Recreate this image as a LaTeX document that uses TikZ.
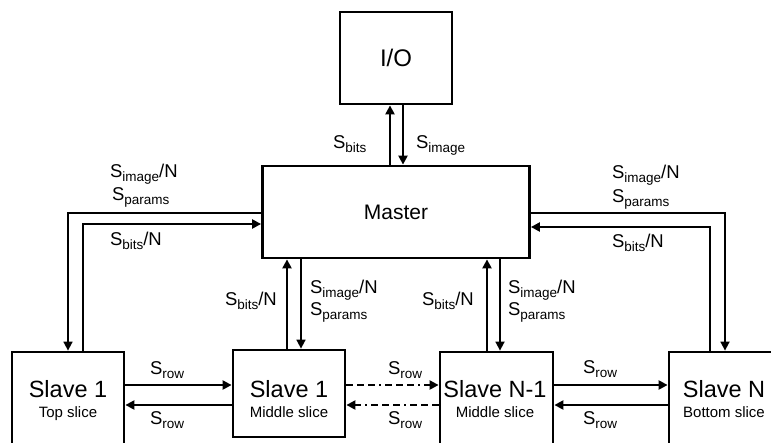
\documentclass[tikz,border=0pt]{standalone}
\usepackage{fontspec}
\setmainfont{Liberation Sans}
\usetikzlibrary{arrows.meta}
% signal name with a lowered, smaller subscript
\newcommand{\sig}[1]{S\kern-0.2pt\raisebox{-0.45ex}{\fontsize{13.5}{14}\selectfont #1}}

\begin{document}
\begin{tikzpicture}[x=1pt,y=-1pt,
  box/.style={draw, line width=2.8pt, inner sep=0pt, outer sep=1.4pt},
  flow/.style={line width=2.2pt, -{Triangle[length=9pt,width=9pt]}},
  thinflow/.style={flow, line width=1.7pt},
  plain/.style={line width=1.7pt},
  dashflow/.style={flow, dash pattern=on 7pt off 4pt on 7pt off 4pt on 7pt off 4pt on 2pt off 4pt},
  lbl/.style={anchor=base west, inner sep=0pt, font=\fontsize{18.5}{20}\selectfont},
  big/.style={anchor=base, inner sep=0pt, font=\fontsize{23.5}{24}\selectfont},
  small/.style={anchor=base, inner sep=0pt, font=\fontsize{15}{16}\selectfont}
]
\useasboundingbox (0,0) rectangle (771,442);
\clip (0,0) rectangle (771,442);

% blocks
\node[box, minimum width=112pt, minimum height=92pt, font=\fontsize{24}{24}\selectfont] (io) at (396,58) {I/O};
\node[box, minimum width=267pt, minimum height=92pt, font=\fontsize{21}{22}\selectfont] (master) at (396,212) {Master};
\node[box, minimum width=112pt, minimum height=108pt] (s1) at (68,406) {};
\node[box, minimum width=112pt, minimum height=87pt] (s2) at (289,393.5) {};
\node[box, minimum width=113pt, minimum height=108pt] (s3) at (496.5,406) {};
\node[box, minimum width=110pt, minimum height=108pt] (s4) at (724,406) {};

% block texts
\node[big] (s1a) at (68,397) {Slave 1};
\node[small] (s1b) at (68,417) {Top slice};
\node[big] (s2a) at (289,397) {Slave 1};
\node[small] (s2b) at (289,417) {Middle slice};
\node[big] (s3a) at (495,397) {Slave N-1};
\node[small] (s3b) at (495,417) {Middle slice};
\node[big] (s4a) at (724,397) {Slave N};
\node[small] (s4b) at (724,417) {Bottom slice};

% rows of the slave links
\coordinate (rowA) at (0,385);
\coordinate (rowB) at (0,405);

% I/O <-> Master
\draw[flow] ([xshift=-6pt]master.north) -- ([xshift=-6pt]io.south);
\draw[flow] ([xshift=7pt]io.south) -- ([xshift=7pt]master.north);

% Master <-> top slave (left loop)
\draw[plain, -{Triangle[length=9pt,width=9pt]}] ([yshift=-1pt]master.west) -| (s1.north);
\draw[flow] ([xshift=15pt]s1.north) |- ([yshift=-12pt]master.west);

% Master <-> middle slaves
\draw[flow] ([xshift=-2pt]s2.north) -- ([xshift=-2pt]s2.north |- master.south);
\draw[thinflow] ([xshift=12pt]s2.north |- master.south) -- ([xshift=12pt]s2.north);
\draw[flow] ([xshift=-9.5pt]s3.north) -- ([xshift=-9.5pt]s3.north |- master.south);
\draw[thinflow] ([xshift=3.5pt]s3.north |- master.south) -- ([xshift=3.5pt]s3.north);

% Master <-> bottom slave (right loop)
\draw[plain, -{Triangle[length=9pt,width=9pt]}] ([yshift=-1pt]master.east) -| ([xshift=1pt]s4.north);
\draw[flow] ([xshift=-14pt]s4.north) |- ([yshift=-15pt]master.east);

% links between neighbouring slaves
\draw[flow] (s1.east |- rowA) -- (s2.west |- rowA);
\draw[flow] (s2.west |- rowB) -- (s1.east |- rowB);
\draw[dashflow] (s2.east |- rowA) -- (s3.west |- rowA);
\draw[dashflow] (s3.west |- rowB) -- (s2.east |- rowB);
\draw[flow] (s3.east |- rowA) -- (s4.west |- rowA);
\draw[flow] (s4.west |- rowB) -- (s3.east |- rowB);

% signal labels
\node[lbl] (lioA) at (333,148) {\sig{bits}};
\node[lbl] (lioB) at (416,148) {\sig{image}};

\node[lbl] (lL1) at (110,177) {\sig{image}/N};
\node[lbl] (lL2) at (112,200) {\sig{params}};
\node[lbl] (lL3) at (110,245) {\sig{bits}/N};

\node[lbl] (lR1) at (612,178) {\sig{image}/N};
\node[lbl] (lR2) at (612,202) {\sig{params}};
\node[lbl] (lR3) at (612,247) {\sig{bits}/N};

\node[lbl] (lM1) at (225,305) {\sig{bits}/N};
\node[lbl] (lM2) at (310,293) {\sig{image}/N};
\node[lbl] (lM3) at (310,315) {\sig{params}};

\node[lbl] (lN1) at (422,305) {\sig{bits}/N};
\node[lbl] (lN2) at (508,293) {\sig{image}/N};
\node[lbl] (lN3) at (508,315) {\sig{params}};

\node[lbl] (r1a) at (150,374) {\sig{row}};
\node[lbl] (r1b) at (150,424) {\sig{row}};
\node[lbl] (r2a) at (388,374) {\sig{row}};
\node[lbl] (r2b) at (388,424) {\sig{row}};
\node[lbl] (r3a) at (583,373) {\sig{row}};
\node[lbl] (r3b) at (583,424) {\sig{row}};
\end{tikzpicture}
\end{document}
